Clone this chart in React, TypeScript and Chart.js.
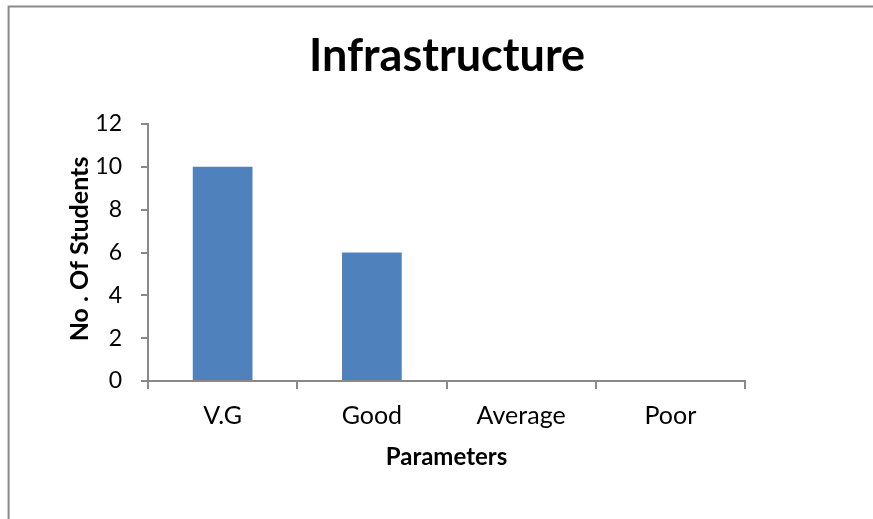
import React, { useEffect, useRef } from "react";
import { Chart, registerables } from "chart.js";

Chart.register(...registerables);

const chartTitle = "Infrastructure";
const xAxisTitle = "Parameters";
const yAxisTitle = "No . Of Students";
const categories = ["V.G", "Good", "Average", "Poor"];
const studentCounts = [10, 6, 0, 0];
const yMin = 0;
const yMax = 12;
const yStep = 2;

const FONT = "Lato, 'Open Sans', sans-serif";
const AXIS_COLOR = "#898989";

const decorPlugin = {
  id: "decor",
  beforeDraw(chart: any) {
    const ctx = chart.ctx;
    ctx.save();
    ctx.fillStyle = "#ffffff";
    ctx.fillRect(0, 0, chart.width, chart.height);
    ctx.strokeStyle = "#8a8a8a";
    ctx.lineWidth = 2;
    ctx.strokeRect(8.6, 6.5, 2000, 2000);
    ctx.restore();
  },
  afterDraw(chart: any) {
    const ctx = chart.ctx;
    const area = chart.chartArea;
    ctx.save();
    ctx.fillStyle = "#000000";
    ctx.textBaseline = "alphabetic";
    ctx.textAlign = "center";
    ctx.font = `bold 45px ${FONT}`;
    ctx.fillText(chartTitle, 447, 71);
    ctx.font = `bold 24px ${FONT}`;
    ctx.fillText(xAxisTitle, (area.left + area.right) / 2, 465);
    ctx.translate(88, 249);
    ctx.rotate(-Math.PI / 2);
    ctx.font = `bold 25px ${FONT}`;
    ctx.fillText(yAxisTitle, 0, 0);
    ctx.restore();
  },
};

export default function App() {
  const canvasRef = useRef<HTMLCanvasElement | null>(null);

  useEffect(() => {
    const canvas = canvasRef.current;
    if (!canvas) return;
    const chart = new Chart(canvas, {
      type: "bar",
      data: {
        labels: categories,
        datasets: [
          {
            data: studentCounts,
            backgroundColor: "#4F81BD",
            borderWidth: 0,
            barPercentage: 0.4,
            categoryPercentage: 1,
          },
        ],
      },
      options: {
        animation: false,
        responsive: false,
        devicePixelRatio: 1,
        layout: { padding: { left: 0, right: 128, top: 124, bottom: 0 } },
        plugins: {
          legend: { display: false },
          title: { display: false },
          tooltip: { enabled: false },
        },
        scales: {
          x: {
            afterFit(scale: any) {
              scale.height = 138;
            },
            grid: {
              display: true,
              drawOnChartArea: false,
              drawTicks: true,
              tickLength: 8,
              color: AXIS_COLOR,
              lineWidth: 2,
              offset: true,
            },
            border: { display: true, color: AXIS_COLOR, width: 2 },
            ticks: {
              color: "#000000",
              font: { family: FONT, size: 25 },
              padding: 12,
              maxRotation: 0,
            },
          },
          y: {
            min: yMin,
            max: yMax,
            afterFit(scale: any) {
              scale.width = 148;
            },
            grid: {
              display: true,
              drawOnChartArea: false,
              drawTicks: true,
              tickLength: 7,
              color: AXIS_COLOR,
              lineWidth: 2,
            },
            border: { display: true, color: AXIS_COLOR, width: 2 },
            ticks: {
              stepSize: yStep,
              color: "#000000",
              font: { family: FONT, size: 23 },
              padding: 19,
            },
          },
        },
      },
      plugins: [decorPlugin],
    });
    return () => chart.destroy();
  }, []);

  return (
    <div style={{ position: "fixed", left: 0, top: 0, width: 873, height: 519, background: "#fff" }}>
      <canvas ref={canvasRef} width={873} height={519} style={{ display: "block", width: 873, height: 519 }} />
    </div>
  );
}
